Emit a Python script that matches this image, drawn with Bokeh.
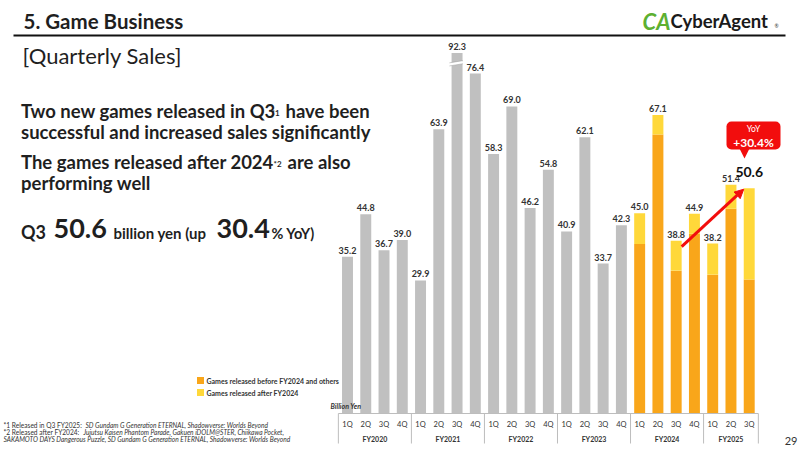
from bokeh.plotting import figure
from bokeh.models import Range1d, Arrow, NormalHead, BoxAnnotation, Label
from bokeh.core.properties import value
from bokeh.embed import file_html
from bokeh.resources import INLINE

# ---------------- data ----------------
fiscal_years = ["FY2020", "FY2021", "FY2022", "FY2023", "FY2024", "FY2025"]
quarters_per_year = [4, 4, 4, 4, 4, 3]
quarter_names = ["1Q", "2Q", "3Q", "4Q"]
sales_total = [35.2, 44.8, 36.7, 39.0,
               29.9, 63.9, 92.3, 76.4,
               58.3, 69.0, 46.2, 54.8,
               40.9, 62.1, 33.7, 42.3,
               45.0, 67.1, 38.8, 44.9,
               38.2, 51.4, 50.6]
# breakdown available from FY2024 1Q onward
split_start = 16
sales_before_fy2024 = [38.1, 62.7, 32.1, 40.4, 31.2, 46.0, 30.1]
sales_after_fy2024 = [6.9, 4.4, 6.7, 4.5, 7.0, 5.4, 20.5]
axis_break_value = 81.0   # bars above this are drawn truncated
yoy_text = "+30.4%"

# ---------------- layout constants ----------------
W, H = 800, 450
SLOT_PX = 18.26      # px per quarter
FIRST_PX = 347.0     # centre of first bar
BASE_PX = 413.0      # baseline (from top)
UNIT_PX = 4.45       # px per billion yen

FONT_NAME = "Lato"
FONT = value(FONT_NAME)
GRAY = "#c0c0c0"
ORANGE = "#f9a61a"
YELLOW = "#ffd83a"
RED = "#f20d0d"
DARK = "#1f1f1f"

p = figure(width=W, height=H, x_range=Range1d(0, W), y_range=Range1d(H, 0),
           min_border=0, toolbar_location=None, output_backend="svg",
           x_axis_location=None, y_axis_location=None)
p.grid.visible = False
p.outline_line_color = None
p.background_fill_color = "white"
p.border_fill_color = "white"

p.extra_x_ranges = {"q": Range1d(-FIRST_PX / SLOT_PX, (W - FIRST_PX) / SLOT_PX)}
p.extra_y_ranges = {"v": Range1d(-(H - BASE_PX) / UNIT_PX, BASE_PX / UNIT_PX)}
CH = dict(x_range_name="q", y_range_name="v")


def txt(x, y, s, size, style="normal", color=DARK, align="left",
        baseline="alphabetic", **kw):
    # y is the text's baseline; place by the middle of the caps instead
    if baseline == "alphabetic":
        y = y - 0.36 * size
        baseline = "middle"
    p.text(x=[x], y=[y], text=[s], text_font=FONT, text_font_size=f"{size}px",
           text_font_style=style, text_color=color, text_align=align,
           text_baseline=baseline, **kw)


# ---------------- bars ----------------
n = len(sales_total)
idx = list(range(n))
shown = [min(v, axis_break_value) for v in sales_total]

gray_idx = idx[:split_start]
p.vbar(x=gray_idx, top=shown[:split_start], bottom=0, width=0.6,
       fill_color=GRAY, line_color=None, **CH)

col_idx = idx[split_start:]
tops_before = sales_before_fy2024
p.vbar(x=col_idx, top=tops_before, bottom=0, width=0.6,
       fill_color=ORANGE, line_color=None, **CH)
p.vbar(x=col_idx, bottom=tops_before,
       top=[b + a for b, a in zip(sales_before_fy2024, sales_after_fy2024)],
       width=0.6, fill_color=YELLOW, line_color=None, **CH)

# axis break mark on truncated bars
for i, v in enumerate(sales_total):
    if v > axis_break_value:
        yb = axis_break_value - 2.3
        p.segment(x0=[i - 0.42], y0=[yb - 0.25], x1=[i + 0.32], y1=[yb + 0.25],
                  line_color="white", line_width=3, **CH)
        p.segment(x0=[i - 0.42, i - 0.42], y0=[yb - 0.6, yb + 0.1],
                  x1=[i + 0.32, i + 0.32], y1=[yb - 0.1, yb + 0.6],
                  line_color="#9a9a9a", line_width=0.5, **CH)

# value labels
last = n - 1
lab_idx = idx[:last]
p.text(x=lab_idx, y=shown[:last], text=[f"{v:.1f}" for v in sales_total[:last]],
       text_font=FONT, text_font_size="9px", text_font_style="bold",
       text_color="#333333", text_align="center", text_baseline="bottom",
       y_offset=-3, **CH)
p.text(x=[last], y=[shown[last]], text=[f"{sales_total[last]:.1f}"],
       text_font=FONT, text_font_size="14px", text_font_style="bold",
       text_color="#111111", text_align="center", text_baseline="bottom",
       y_offset=-11, **CH)

# ---------------- category axis ----------------
p.segment(x0=[-0.5], y0=[0], x1=[n - 0.5], y1=[0], line_color="#bdbdbd",
          line_width=1, **CH)
q_labels, q_pos, g_pos, seps = [], [], [], [-0.5]
k = 0
for fy, cnt in zip(fiscal_years, quarters_per_year):
    for j in range(cnt):
        q_labels.append(quarter_names[j])
        q_pos.append(k + j)
    g_pos.append(k + (cnt - 1) / 2)
    k += cnt
    seps.append(k - 0.5)
lab_y = -(424 - BASE_PX) / UNIT_PX
grp_y = -(438 - BASE_PX) / UNIT_PX
sep_y = -(443 - BASE_PX) / UNIT_PX
p.segment(x0=seps, y0=[0] * len(seps), x1=seps, y1=[sep_y] * len(seps),
          line_color="#bdbdbd", line_width=1, **CH)
p.text(x=q_pos, y=[lab_y] * len(q_pos), text=q_labels, text_font=FONT,
       text_font_size="7.5px", text_color="#333333", text_align="center",
       text_baseline="middle", **CH)
p.text(x=g_pos, y=[grp_y] * len(g_pos), text=fiscal_years, text_font=FONT,
       text_font_size="7px", text_font_style="bold", text_color="#333333",
       text_align="center", text_baseline="middle", **CH)

# YoY arrow from FY2024 3Q to FY2025 3Q
i0, i1 = split_start + 2, last
p.add_layout(Arrow(end=NormalHead(size=9, fill_color=RED, line_color=RED),
                   x_start=i0 + 0.3, y_start=sales_total[i0] - 1.3,
                   x_end=i1 - 0.3, y_end=sales_total[i1] - 0.2,
                   line_color=RED, line_width=3, **CH))

# YoY callout
p.add_layout(BoxAnnotation(left=726, right=780, top=121, bottom=149,
                           fill_color=RED, fill_alpha=1, line_color=None,
                           border_radius=5))
p.patch(x=[739, 749, 744], y=[148, 148, 158], fill_color=RED, line_color=None)
p.add_layout(Label(x=753, y=128, text="YoY", text_font=FONT_NAME,
                   text_font_size="8.5px", text_color="white",
                   text_align="center", text_baseline="middle"))
p.add_layout(Label(x=753, y=141.5, text=yoy_text, text_font=FONT_NAME,
                   text_font_size="12px", text_font_style="bold",
                   text_color="white", text_align="center",
                   text_baseline="middle"))

# ---------------- legend ----------------
p.scatter(x=[200, 200], y=[380, 392], marker="square", size=7,
          fill_color=[ORANGE, YELLOW], line_color=None)
txt(206, 380.5, "Games released before FY2024 and others", 7, style="bold",
    color="#333333", baseline="middle")
txt(206, 392.5, "Games released after FY2024", 7, style="bold",
    color="#333333", baseline="middle")
txt(330, 405, "Billion Yen", 7, style="bold italic", color="#333333",
    baseline="middle")

# ---------------- page texts ----------------
txt(23, 28, "5.  Game Business", 20.5, style="bold")
p.segment(x0=[13], y0=[35], x1=[785], y1=[35], line_color="#111111", line_width=2)
txt(22, 63, "[Quarterly Sales]", 22)

txt(642, 29, "CA", 22, style="bold italic", color="#5db031")
txt(670, 27, "CyberAgent", 18.5, style="bold", color="#1a1a1a")
txt(774, 27, "®", 5, color="#333333")

ST = 18.5
txt(20.5, 117, "Two new games released in Q3", ST, style="bold")
txt(271, 112, "*1", 8, style="bold", baseline="middle")
txt(285, 117, "have been", ST, style="bold")
txt(20.5, 138, "successful and increased sales significantly", ST, style="bold")
txt(20.5, 168, "The games released after 2024", ST, style="bold")
txt(273, 163, "*2", 8, style="bold", baseline="middle")
txt(287, 168, "are also", ST, style="bold")
txt(20.5, 189, "performing well", ST, style="bold")

txt(20.5, 238, "Q3", 18, style="bold")
txt(53, 238, "50.6", 27, style="bold")
txt(113, 238, "billion yen (up", 15, style="bold")
txt(216, 238, "30.4", 27, style="bold")
txt(271, 238, "% YoY)", 14.5, style="bold")

FN = 6.6
txt(3, 426.5, "*1 Released in Q3 FY2025:", FN, color="#333333")
txt(85, 426.5, "SD Gundam G Generation ETERNAL, Shadowverse: Worlds Beyond", FN,
    style="italic", color="#333333")
txt(3, 433.5, "*2 Released after FY2024:", FN, color="#333333")
txt(83, 433.5, "Jujutsu Kaisen Phantom Parade, Gakuen iDOLM@STER, Chiikawa Pocket,", FN,
    style="italic", color="#333333")
txt(3, 440.5, "SAKAMOTO DAYS Dangerous Puzzle, SD Gundam G Generation ETERNAL, Shadowverse: Worlds Beyond",
    FN, style="italic", color="#333333")

txt(797, 444, "29", 11, color="#333333", align="right")

open("out.html", "w").write(file_html(p, INLINE))
